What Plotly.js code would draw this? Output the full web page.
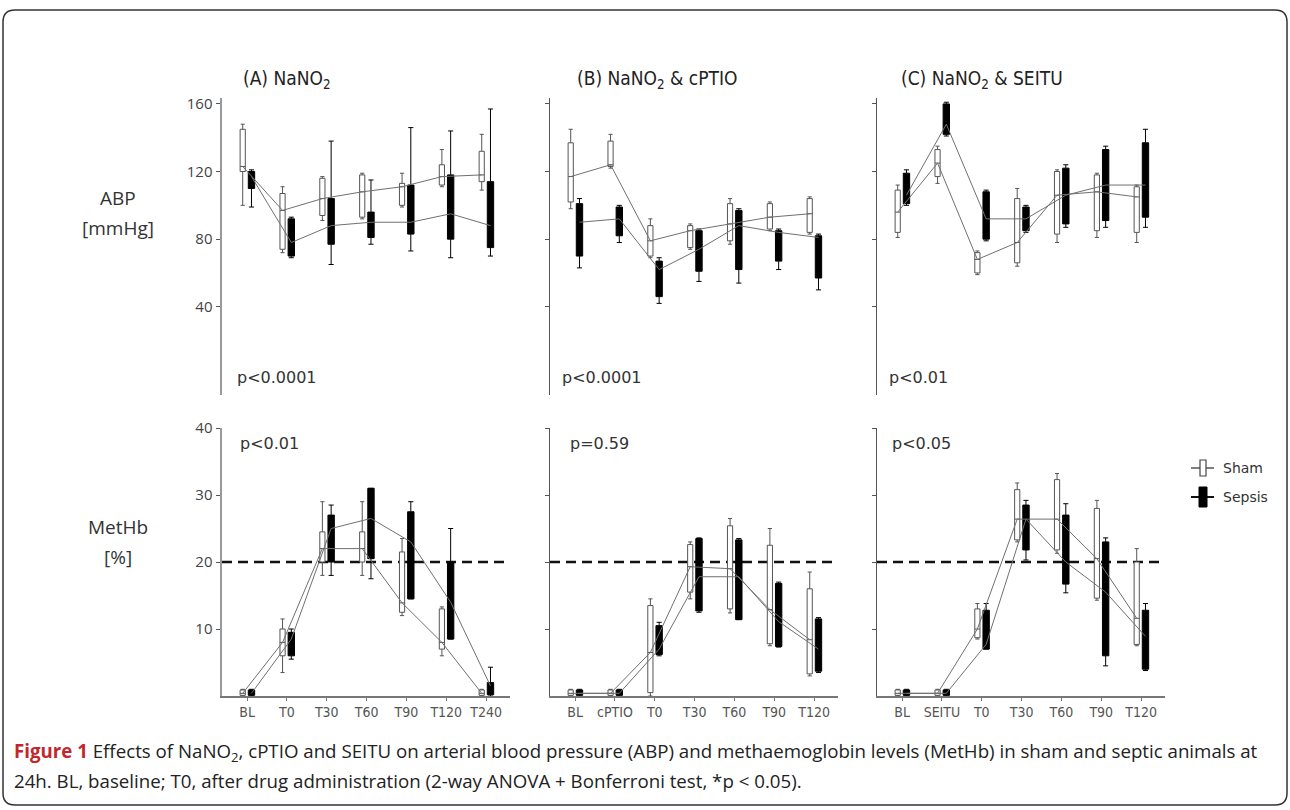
<!DOCTYPE html>
<html>
<head>
<meta charset="utf-8">
<script src="https://cdn.plot.ly/plotly-3.0.1.min.js"></script>
<style>html,body{margin:0;padding:0;background:#fff;}#chart{width:1290px;height:810px;}</style>
</head>
<body>
<div id="chart"></div>
<script>
// ---------- categories ----------
const catA = ['BL','T0','T30','T60','T90','T120','T240'];
const catB = ['BL','cPTIO','T0','T30','T60','T90','T120'];
const catC = ['BL','SEITU','T0','T30','T60','T90','T120'];

// each row: [lower whisker, q1, median, q3, upper whisker]
// ---------- ABP [mmHg] ----------
const abpA_sham   = [[100,120,123,145,148],[72,74,97,107,111],[91,94,104,116,117],[92,93,108,118,119],[99,100,111,113,119],[111,112,117,124,133],[109,114,118,132,142]];
const abpA_sepsis = [[99,110,117,120,121],[69,70,78,92,93],[65,77,88,104,138],[77,81,90,96,115],[73,83,90,112,146],[69,80,95,118,144],[70,75,88,114,157]];
const abpB_sham   = [[98,102,117,137,145],[122,123,124,138,142],[69,70,79,88,92],[74,75,85,88,89],[77,79,89,101,104],[85,86,93,101,102],[83,84,95,104,105]];
const abpB_sepsis = [[63,70,90,101,104],[78,82,92,99,100],[42,46,62,67,69],[55,61,74,85,86],[54,62,88,97,98],[62,67,84,85,86],[50,57,81,82,83]];
const abpC_sham   = [[81,84,96,109,112],[113,117,125,133,135],[59,60,68,72,73],[64,66,78,104,110],[78,83,106,120,121],[81,85,108,118,119],[78,84,105,111,112]];
const abpC_sepsis = [[100,101,106,119,121],[141,142,148,160,161],[79,80,92,108,109],[84,85,92,99,100],[87,89,106,122,124],[87,91,112,133,135],[87,93,112,137,145]];

// ---------- MetHb [%] ----------
const mhA_sham   = [[0,0.1,0.4,0.9,1.0],[3.5,6,8,10,11.5],[18,20,22,24.5,29],[18,20,22,24.5,29],[12,12.5,13.9,21.5,23.5],[6,7,8,13,13.3],[0,0.1,0.4,0.9,1.0]];
const mhA_sepsis = [[0,0.1,0.4,0.9,1.0],[5.5,6,8.5,9.5,10],[18,20,25,27,28.5],[17.5,20.5,26.5,31,31],[14.5,14.5,23,27.5,29],[8.5,8.5,14,20,25],[0,0.2,1.5,2,4.3]];
const mhB_sham   = [[0,0.1,0.4,0.9,1.0],[0,0.1,0.4,0.9,1.0],[0,0.5,6.5,13.5,14.5],[14.5,15.5,19.3,22.6,23],[12.4,13,19,25.4,26.5],[7.5,7.8,12.9,22.5,25],[3,3.3,8.4,16,18.5]];
const mhB_sepsis = [[0,0.1,0.4,0.9,1.0],[0,0.1,0.4,0.9,1.0],[6,6.2,7,10.5,11],[12.5,12.7,17.8,23.5,23.6],[11.4,11.4,17.8,23.3,23.5],[7.3,7.4,11.1,16.8,17],[3.5,3.7,7,11.5,11.7]];
const mhC_sham   = [[0,0.1,0.4,0.9,1.0],[0,0.1,0.4,0.9,1.0],[8.5,8.7,10,13,13.8],[23,23.3,26.4,30.8,31.8],[21.3,21.8,26.4,32.3,33.2],[14.3,14.6,20.5,28,29.2],[7.5,7.7,11.6,20,22]];
const mhC_sepsis = [[0,0.1,0.4,0.9,1.0],[0,0.1,0.4,0.9,1.0],[7,7,7.7,12.8,13.8],[20.3,21.8,26.4,28.5,29.2],[15.4,16.7,20,27,28.7],[4.5,6,15.5,23,23.6],[3.8,4,8.9,12.8,13.8]];

const metHbThreshold = 20;
const panelTitles = ['(A) NaNO<sub>2</sub>', '(B) NaNO<sub>2</sub> &amp; cPTIO', '(C) NaNO<sub>2</sub> &amp; SEITU'];
const pTop = ['p<0.0001', 'p<0.0001', 'p<0.01'];
const pBottom = ['p<0.01', 'p=0.59', 'p<0.05'];
const abpTicks = [40, 80, 120, 160];
const mhTicks = [10, 20, 30, 40];

// ---------- helpers ----------
const W = 1290, H = 810;
const px = x => x / W;
const py = y => 1 - y / H;
const SHAM_OFF = -0.11, SEP_OFF = 0.11;
const XR = [-0.63, 6.6];

const panels = [
  {xa:'x',  ya:'y',  cats:catA, sham:abpA_sham, sep:abpA_sepsis},
  {xa:'x2', ya:'y2', cats:catB, sham:abpB_sham, sep:abpB_sepsis},
  {xa:'x3', ya:'y3', cats:catC, sham:abpC_sham, sep:abpC_sepsis},
  {xa:'x4', ya:'y4', cats:catA, sham:mhA_sham, sep:mhA_sepsis},
  {xa:'x5', ya:'y5', cats:catB, sham:mhB_sham, sep:mhB_sepsis},
  {xa:'x6', ya:'y6', cats:catC, sham:mhC_sham, sep:mhC_sepsis}
];

const traces = [];
panels.forEach(p => {
  const idx = p.cats.map((c, i) => i);
  [[p.sham, SHAM_OFF, '#ffffff', '#555555', 0.13], [p.sep, SEP_OFF, '#000000', '#000000', 0.16]].forEach(g => {
    const rows = g[0];
    const xs = idx.map(i => i + g[1]);
    traces.push({
      type:'scatter', mode:'lines', xaxis:p.xa, yaxis:p.ya,
      x: xs, y: rows.map(r => r[2]),
      line:{color:'#707070', width:1}, hoverinfo:'skip', showlegend:false
    });
    traces.push({
      type:'box', xaxis:p.xa, yaxis:p.ya,
      x: xs,
      lowerfence: rows.map(r => r[0]),
      q1: rows.map(r => r[1]),
      median: rows.map(r => r[2]),
      q3: rows.map(r => r[3]),
      upperfence: rows.map(r => r[4]),
      width: g[4], whiskerwidth: 0.8,
      fillcolor: g[2], line:{color:g[3], width:1},
      boxpoints:false, hoverinfo:'skip', showlegend:false
    });
  });
});

const xDom = [[px(222), px(510)], [px(550), px(838)], [px(877), px(1165)]];
const yTopDom = [py(395), py(98)];
const yBotDom = [py(696), py(428)];

const tickFont = {family:'Open Sans, sans-serif', size:15, color:'#444'};
const xLabFont = {family:'Liberation Sans Narrow, DejaVu Sans Condensed, Roboto, sans-serif', size:14, color:'#555'};

function xTop(i){ return {domain:xDom[i], anchor:'y'+(i===0?'':(i+1)), range:XR, showline:false, showticklabels:false, ticks:'', showgrid:false, zeroline:false}; }
function yTop(i){ return {domain:yTopDom, anchor:'x'+(i===0?'':(i+1)), range:[-12.2,163.5], tickvals:abpTicks, ticks:'outside', ticklen:4, tickcolor:'#555', showticklabels:i===0, tickfont:tickFont, showline:true, linecolor:i===0?'#999':'#555', linewidth:i===0?2.5:1.5, showgrid:false, zeroline:false}; }
function xBot(i, cats){ return {domain:xDom[i], anchor:'y'+(i+4), range:XR, tickvals:cats.map((c,k)=>k), ticktext:cats, ticks:'outside', ticklen:3, tickcolor:'#777', tickfont:xLabFont, showline:true, linecolor:'#777', linewidth:1.5, showgrid:false, zeroline:false}; }
function yBot(i){ return {domain:yBotDom, anchor:'x'+(i+4), range:[0,40], tickvals:mhTicks, ticks:'outside', ticklen:4, tickcolor:'#555', showticklabels:i===0, tickfont:tickFont, showline:true, linecolor:i===0?'#999':'#555', linewidth:i===0?2.5:1.5, showgrid:false, zeroline:false}; }

const layout = {
  width:W, height:H, margin:{l:0,r:0,t:0,b:0}, paper_bgcolor:'#fff', plot_bgcolor:'rgba(0,0,0,0)',
  showlegend:false, boxmode:'overlay',
  xaxis:xTop(0), yaxis:yTop(0), xaxis2:xTop(1), yaxis2:yTop(1), xaxis3:xTop(2), yaxis3:yTop(2),
  xaxis4:xBot(0,catA), yaxis4:yBot(0), xaxis5:xBot(1,catB), yaxis5:yBot(1), xaxis6:xBot(2,catC), yaxis6:yBot(2),
  shapes:[], annotations:[]
};

// threshold lines
['x4','x5','x6'].forEach((xa, i) => {
  layout.shapes.push({type:'line', xref:xa, yref:'y'+(i+4), x0:XR[0], x1:6.45, y0:metHbThreshold, y1:metHbThreshold,
    line:{color:'#111', width:2.5, dash:'10px,6px'}, layer:'below'});
});

// frame with rounded corners
(function(){
  const L=3, R=1287, T=10, B=805, r=12;
  const P = (x,y) => px(x)+','+py(y);
  const path = 'M'+P(L+r,T)+' L'+P(R-r,T)+' Q'+P(R,T)+' '+P(R,T+r)+' L'+P(R,B-r)+' Q'+P(R,B)+' '+P(R-r,B)+
    ' L'+P(L+r,B)+' Q'+P(L,B)+' '+P(L,B-r)+' L'+P(L,T+r)+' Q'+P(L,T)+' '+P(L+r,T)+' Z';
  layout.shapes.push({type:'path', xref:'paper', yref:'paper', path:path, line:{color:'#333', width:1.5}, fillcolor:'rgba(0,0,0,0)'});
})();

// legend glyphs
layout.shapes.push({type:'line', xref:'paper', yref:'paper', x0:px(1191), x1:px(1214), y0:py(468), y1:py(468), line:{color:'#555', width:1.5}});
layout.shapes.push({type:'rect', xref:'paper', yref:'paper', x0:px(1200), x1:px(1206), y0:py(476), y1:py(460), line:{color:'#444', width:1.2}, fillcolor:'#fff'});
layout.shapes.push({type:'line', xref:'paper', yref:'paper', x0:px(1191), x1:px(1214), y0:py(497), y1:py(497), line:{color:'#111', width:2}});
layout.shapes.push({type:'rect', xref:'paper', yref:'paper', x0:px(1199), x1:px(1207), y0:py(507), y1:py(487), line:{color:'#000', width:1}, fillcolor:'#000'});

const A = (text, x, y, font, xanchor, extra) => Object.assign({text, xref:'paper', yref:'paper', x:px(x), y:py(y), xanchor:xanchor||'center', yanchor:'middle', showarrow:false, font}, extra||{});
const titleFont = {family:'Liberation Sans Narrow, DejaVu Sans Condensed, Open Sans, sans-serif', size:19, color:'#222'};
const rowFont = {family:'Open Sans, sans-serif', size:19, color:'#333'};
const pFont = {family:'DejaVu Sans, sans-serif', size:16, color:'#333'};
const legFont = {family:'DejaVu Sans, sans-serif', size:14, color:'#333'};
const capFont = {family:'Open Sans, sans-serif', size:18.7, color:'#222'};

layout.annotations.push(A(panelTitles[0], 287, 79, titleFont));
layout.annotations.push(A(panelTitles[1], 657, 79, titleFont));
layout.annotations.push(A(panelTitles[2], 982, 79, titleFont));
layout.annotations.push(A('ABP', 118, 198, rowFont));
layout.annotations.push(A('[mmHg]', 118, 228, rowFont));
layout.annotations.push(A('MetHb', 118, 527, rowFont));
layout.annotations.push(A('[%]', 118, 557, rowFont));
[235, 560, 887].forEach((x,i) => layout.annotations.push(A(pTop[i].replace('<','&lt;'), x, 377, pFont, 'left')));
[238, 568, 890].forEach((x,i) => layout.annotations.push(A(pBottom[i].replace('<','&lt;'), x, 443, pFont, 'left')));
layout.annotations.push(A('Sham', 1221, 468, legFont, 'left'));
layout.annotations.push(A('Sepsis', 1221, 497, legFont, 'left'));
layout.annotations.push(A('<b><span style="color:#c0282d">Figure 1</span></b> Effects of NaNO<sub>2</sub>, cPTIO and SEITU on arterial blood pressure (ABP) and methaemoglobin levels (MetHb) in sham and septic animals at', 12, 752, capFont, 'left'));
layout.annotations.push(A('24h. BL, baseline; T0, after drug administration (2-way ANOVA + Bonferroni test, *p &lt; 0.05).', 12, 780, capFont, 'left'));

Plotly.newPlot('chart', traces, layout, {staticPlot:true, displayModeBar:false});
</script>
</body>
</html>
